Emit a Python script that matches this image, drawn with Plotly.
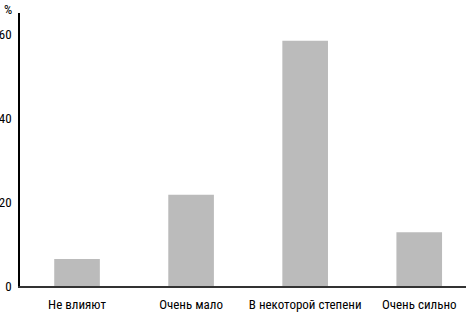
import plotly.graph_objects as go

categories = ["Не влияют", "Очень мало", "В некоторой степени", "Очень сильно"]
values = [6.4, 21.7, 58.4, 12.8]
tick_vals = [0, 20, 40, 60]
tick_text = ["0", "20", "40", "60"]

FONT = "Roboto Condensed, DejaVu Sans Condensed, sans-serif"

fig = go.Figure(go.Bar(
    x=list(range(len(categories))),
    y=values,
    marker=dict(color="#bbbbbb", line=dict(width=0)),
    width=0.4,
))

fig.update_layout(
    width=466, height=315,
    margin=dict(l=20, r=0, t=13, b=29, autoexpand=False),
    paper_bgcolor="white", plot_bgcolor="white",
    font=dict(family=FONT, size=13, color="black"),
    showlegend=False,
    xaxis=dict(
        range=[-0.5, 3.41],
        tickmode="array",
        tickvals=list(range(len(categories))),
        ticktext=categories,
        showline=True, linecolor="#333333", linewidth=1.5,
        showgrid=False, zeroline=False, ticks="",
        ticklabelstandoff=6, automargin=False, tickangle=0,
        tickfont=dict(family=FONT, size=13),
    ),
    yaxis=dict(
        range=[0, 65],
        tickmode="array",
        tickvals=tick_vals,
        ticktext=tick_text,
        showline=True, linecolor="black", linewidth=1.5,
        showgrid=False, zeroline=False, ticks="",
        ticklabelstandoff=4, automargin=False,
        tickfont=dict(family=FONT, size=13),
    ),
    annotations=[dict(
        text="%", xref="paper", yref="paper", x=0, y=1,
        xanchor="right", yanchor="bottom", xshift=-6, yshift=-6,
        showarrow=False, font=dict(family=FONT, size=13, color="black"),
    )],
)

fig.write_html("out.html")
